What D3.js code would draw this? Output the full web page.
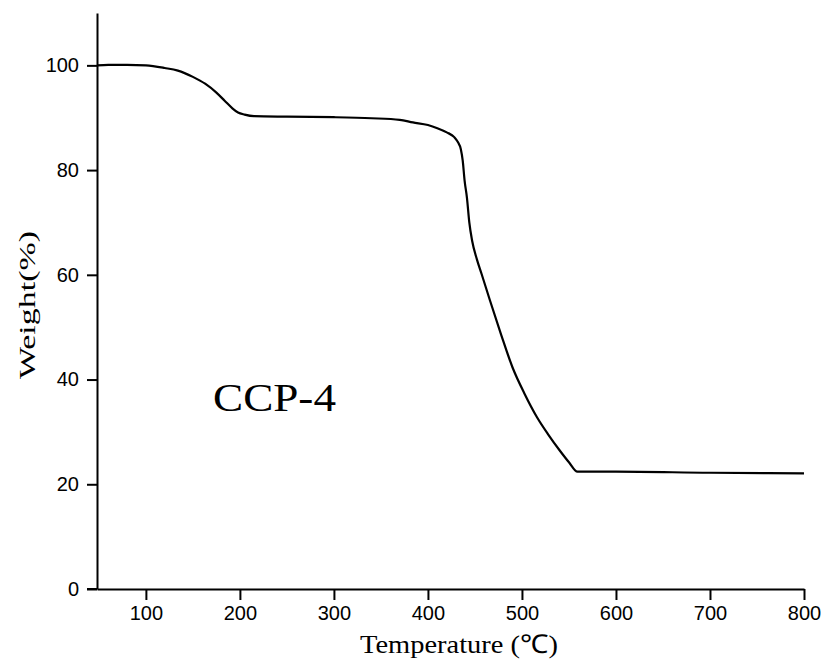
<!DOCTYPE html>
<html><head><meta charset="utf-8">
<script src="https://cdn.jsdelivr.net/npm/d3@7"></script>
<style>body{margin:0;background:#fff}</style>
</head><body>
<svg id="c" width="826" height="668"></svg>
<script>
const temperature = [48,60,80,100,120,134,150,163,175,184,192,198,205,215,250,300,340,370,384,400,410,420,428,432,435,437,439,441.5,444,447,452,457,466,478,490,503,516,528,540,550,559,600,700,800];
const weight = [100,100.1,100.1,100,99.5,99,97.8,96.5,94.8,93.2,91.8,91,90.6,90.3,90.2,90.1,89.9,89.6,89.1,88.6,88,87.2,86.3,85.3,84,81.8,78,74.7,70,66.5,63,60.2,55.1,48.5,42.3,37.2,32.8,29.5,26.5,24.2,22.4,22.4,22.2,22.1];
const xTicks = [100,200,300,400,500,600,700,800];
const yTicks = [0,20,40,60,80,100];
const xTitle = "Temperature (\u2103)";
const yTitle = "Weight(%)";
const sampleLabel = "CCP-4";

const svg = d3.select("#c");
const x = d3.scaleLinear().domain([48,800]).range([97,804]);
const y = d3.scaleLinear().domain([0,110]).range([589,13]);

const data = temperature.map((t,i)=>[t,weight[i]]);

const xAxis = svg.append("g").attr("transform","translate(0,589)")
  .call(d3.axisBottom(x).tickValues(xTicks).tickSize(11).tickPadding(6).tickSizeOuter(0));
const yAxis = svg.append("g").attr("transform","translate(97,0)")
  .call(d3.axisLeft(y).tickValues(yTicks).tickSize(10).tickPadding(8).tickSizeOuter(0));
[xAxis,yAxis].forEach(g=>{
  g.selectAll("path.domain").attr("stroke","#000").attr("stroke-width",2);
  g.selectAll(".tick line").attr("stroke","#000").attr("stroke-width",2);
  g.selectAll(".tick text").attr("fill","#000").style("font-family","'Liberation Sans',Arial,sans-serif").style("font-size","20px");
});
svg.append("line").attr("x1",87).attr("x2",97).attr("y1",589).attr("y2",589).attr("stroke","#000").attr("stroke-width",2);

svg.append("path").datum(data)
  .attr("fill","none").attr("stroke","#000").attr("stroke-width",2.2)
  .attr("d", d3.line().x(d=>x(d[0])).y(d=>y(d[1])).curve(d3.curveMonotoneX));

const serif = "'Liberation Serif','Times New Roman',serif";
svg.append("text").attr("x",459).attr("y",653).attr("text-anchor","middle")
  .attr("textLength",198).attr("lengthAdjust","spacingAndGlyphs")
  .style("font-family",serif).style("font-size","26px").text(xTitle);
svg.append("text").attr("transform","translate(35,305) rotate(-90)").attr("text-anchor","middle")
  .attr("textLength",148).attr("lengthAdjust","spacingAndGlyphs")
  .style("font-family",serif).style("font-size","24px").text(yTitle);
svg.append("text").attr("x",213).attr("y",411)
  .attr("textLength",123).attr("lengthAdjust","spacingAndGlyphs")
  .style("font-family",serif).style("font-size","39px").text(sampleLabel);
</script>
</body></html>
